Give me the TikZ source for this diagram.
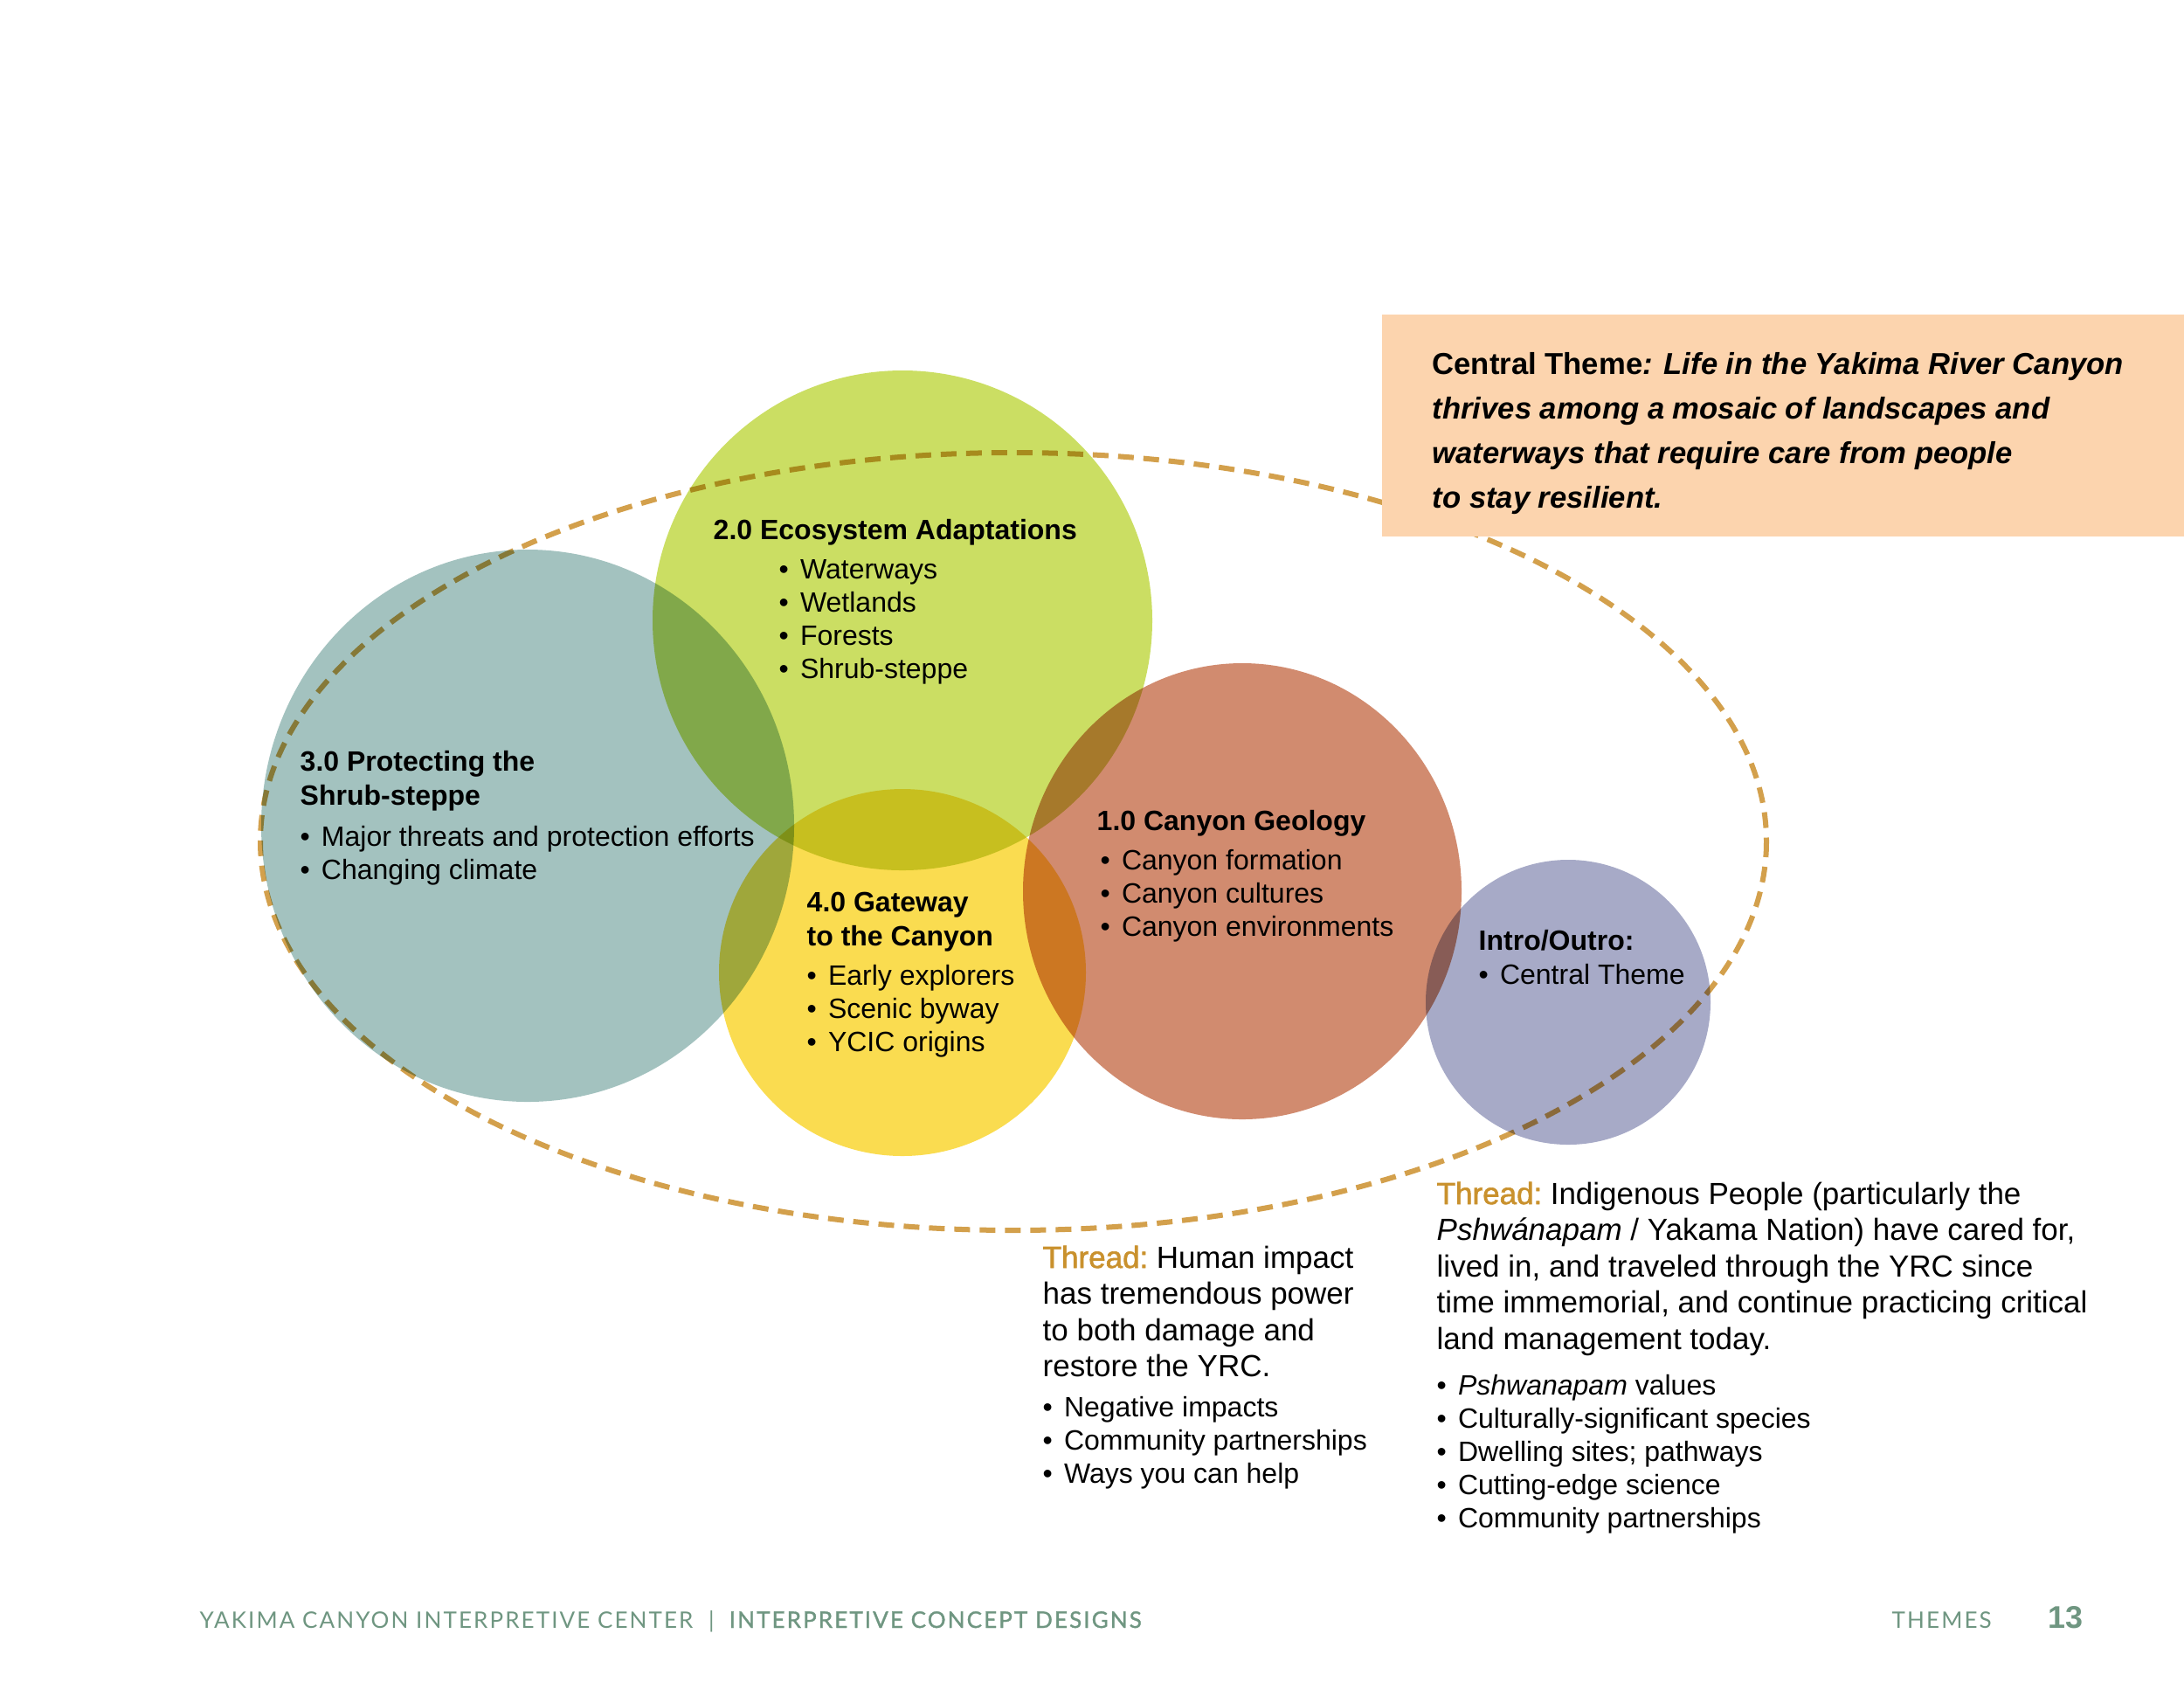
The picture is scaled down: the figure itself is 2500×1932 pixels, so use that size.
\documentclass[tikz,border=0pt]{standalone}
\usepackage{fontspec}
\setmainfont{Liberation Sans}
\newfontfamily\footfont[LetterSpace=8]{Lato}
\newfontfamily\footfontb[LetterSpace=8,FakeBold=1.2]{Lato}
\newfontfamily\thrfont[FakeBold=1.6]{Liberation Sans}
\usetikzlibrary{positioning}
\definecolor{cTeal}{HTML}{A3C2BF}
\definecolor{cLime}{HTML}{CBDE63}
\definecolor{cSun}{HTML}{FADC50}
\definecolor{cRust}{HTML}{D18B6F}
\definecolor{cLav}{HTML}{A7AAC7}
\definecolor{cPeach}{HTML}{FCD4AE}
\definecolor{cDash}{HTML}{D3A04C}
\definecolor{cThread}{HTML}{C9912D}
\definecolor{cFoot}{HTML}{6F9681}
\newcommand{\bul}{\makebox[0.76em][l]{\textbullet}}
\newcommand{\thr}{\textcolor{cThread}{\thrfont Thread:}\hspace{-0.1em}}

\begin{document}
\begin{tikzpicture}[x=0.01cm,y=-0.01cm,
    every node/.style={inner sep=0pt,anchor=north west,align=left},
    circ/.style={blend mode=multiply},
    ttl/.style={font=\fontsize{9.1}{11.1}\selectfont\bfseries},
    lst/.style={font=\fontsize{9.1}{10.8}\selectfont},
    thrtxt/.style={font=\fontsize{9.95}{11.8}\selectfont},
    foot/.style={anchor=base west,text=cFoot,font=\fontsize{7.4}{9}\selectfont}]
  \useasboundingbox (0,0) rectangle (2500,1932);
  % ---- dashed frame ----
  \draw[cDash,line width=0.06cm,dash pattern=on 0.18cm off 0.11cm] (1160,963) ellipse [x radius=862,y radius=445];
  % ---- theme circles ----
  \fill[circ,cTeal] (604,945)  ellipse [x radius=305,y radius=316];
  \fill[circ,cLime] (1033,710) circle [radius=286];
  \fill[circ,cSun]  (1033,1113) circle [radius=210];
  \fill[circ,cRust] (1422,1020) ellipse [x radius=251,y radius=261];
  \fill[circ,cLav]  (1795,1147) circle [radius=163];
  % ---- central theme box ----
  \fill[cPeach] (1582,360) rectangle (2500,614);
  \node[font=\fontsize{9.85}{14.5}\selectfont\bfseries] (theme) at (1639,403)
       {Central Theme\textit{: Life in the Yakima River Canyon}\\
        \textit{thrives among a mosaic of landscapes and}\\
        \textit{waterways that require care from people}\\
        \textit{to stay resilient.}};
  % ---- circle labels ----
  \node[ttl] (t2) at (816,594) {2.0 Ecosystem Adaptations};
  \node[lst] (l2) at (891,640) {\bul Waterways\\ \bul Wetlands\\ \bul Forests\\ \bul Shrub-steppe};
  \node[ttl] (t3) at (343,859) {3.0 Protecting the\\Shrub-steppe};
  \node[lst] (l3) at (343,945) {\bul Major threats and protection efforts\\ \bul Changing climate};
  \node[ttl] (t4) at (923,1020) {4.0 Gateway\\to the Canyon};
  \node[lst] (l4) at (923,1104) {\bul Early explorers\\ \bul Scenic byway\\ \bul YCIC origins};
  \node[ttl] (t1) at (1255,927) {1.0 Canyon Geology};
  \node[lst] (l1) at (1259,972) {\bul Canyon formation\\ \bul Canyon cultures\\ \bul Canyon environments};
  \node[ttl] (t0) at (1692,1064) {Intro/Outro:};
  \node[lst] (l0) at (1692,1103) {\bul Central Theme};
  % ---- threads ----
  \node[thrtxt] (th1) at (1193,1425) {\thr{} Human impact\\has tremendous power\\to both damage and\\restore the YRC.};
  \node[lst] (tl1) at (1193,1598) {\bul Negative impacts\\ \bul Community partnerships\\ \bul Ways you can help};
  \node[thrtxt] (th2) at (1644,1352) {\thr{} Indigenous People (particularly the\\
       \textit{Pshwánapam} / Yakama Nation) have cared for,\\
       lived in, and traveled through the YRC since\\
       time immemorial, and continue practicing critical\\
       land management today.};
  \node[lst] (tl2) at (1644,1573) {\bul \textit{Pshwanapam} values\\ \bul Culturally-significant species\\
       \bul Dwelling sites; pathways\\ \bul Cutting-edge science\\ \bul Community partnerships};
  % ---- footer ----
  \node[foot] (ftl) at (228,1863) {\footfont YAKIMA CANYON INTERPRETIVE CENTER\ \ |\ \ \footfontb INTERPRETIVE CONCEPT DESIGNS};
  \node[foot] (ftr) at (2165,1863) {\footfont THEMES};
  \node[foot,font=\fontsize{10.2}{12}\selectfont\bfseries] (pg) at (2344,1863) {13};
\end{tikzpicture}
\end{document}
